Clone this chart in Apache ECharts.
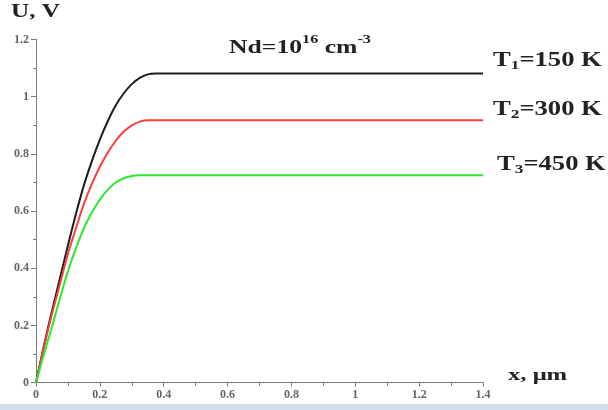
<!DOCTYPE html>
<html><head><meta charset="utf-8">
<script src="https://cdn.jsdelivr.net/npm/echarts@6/dist/echarts.min.js"></script>
<style>html,body{margin:0;padding:0;background:#fff}#c{width:608px;height:410px}</style>
</head><body><div id="c"></div>
<script>
// Data
const xT1 = [0, 0.025, 0.05, 0.075, 0.1, 0.125, 0.15, 0.175, 0.2, 0.225, 0.25, 0.275, 0.3, 0.325, 0.35, 0.375, 1.4];
const yT1 = [0, 0.13, 0.25, 0.365, 0.48, 0.59, 0.69, 0.775, 0.85, 0.915, 0.97, 1.012, 1.044, 1.066, 1.078, 1.081, 1.081];
const xT2 = [0, 0.025, 0.05, 0.075, 0.1, 0.125, 0.15, 0.175, 0.2, 0.225, 0.25, 0.275, 0.3, 0.325, 0.35, 1.4];
const yT2 = [0, 0.125, 0.24, 0.345, 0.45, 0.54, 0.625, 0.695, 0.755, 0.805, 0.846, 0.878, 0.9, 0.913, 0.918, 0.918];
const xT3 = [0, 0.025, 0.05, 0.075, 0.1, 0.125, 0.15, 0.175, 0.2, 0.225, 0.25, 0.275, 0.3, 0.325, 1.4];
const yT3 = [0, 0.1, 0.195, 0.295, 0.39, 0.47, 0.54, 0.595, 0.64, 0.675, 0.7, 0.715, 0.723, 0.725, 0.725];
const seriesNames = ['T1=150 K', 'T2=300 K', 'T3=450 K'];
const seriesSub = ['1', '2', '3'];
const seriesRest = ['=150 K', '=300 K', '=450 K'];
const xAxisTitle = 'x, μm';
const yAxisTitle = 'U, V';
const noteMain = ['Nd=10', ' cm'];
const noteSup = ['16', '-3'];

const zip = (xs, ys) => xs.map((x, i) => [x, ys[i]]);
const colors = ['#1c1c1c', '#ff3c3c', '#2ee82e'];
const serif = '"Liberation Serif", "DejaVu Serif", serif';

const chart = echarts.init(document.getElementById('c'));
const axisLabel = { color: '#666', fontFamily: serif, fontWeight: 'bold', fontSize: 12 };
const labelY = [48.5, 97.5, 152.5];
const labelX = [493, 493, 497];

chart.setOption({
  animation: false,
  backgroundColor: '#fff',
  grid: { left: 36, right: 125, top: 39.5, bottom: 27.3 },
  xAxis: {
    type: 'value', min: 0, max: 1.4, interval: 0.2,
    axisLine: { lineStyle: { color: '#7a7a7a', width: 1 } },
    axisTick: { show: true, length: 4, lineStyle: { color: '#7a7a7a' } },
    minorTick: { show: true, splitNumber: 2, length: 3, lineStyle: { color: '#7a7a7a' } },
    splitLine: { show: false },
    axisLabel: Object.assign({ margin: 6 }, axisLabel)
  },
  yAxis: {
    type: 'value', min: 0, max: 1.2, interval: 0.2,
    axisLine: { show: true, lineStyle: { color: '#7a7a7a', width: 1 } },
    axisTick: { show: true, length: 5, lineStyle: { color: '#7a7a7a' } },
    minorTick: { show: true, splitNumber: 2, length: 3, lineStyle: { color: '#7a7a7a' } },
    splitLine: { show: false },
    axisLabel: Object.assign({ margin: 7 }, axisLabel)
  },
  series: [zip(xT1, yT1), zip(xT2, yT2), zip(xT3, yT3)].map((d, i) => ({
    name: seriesNames[i], type: 'line', data: d, showSymbol: false,
    smooth: 0.3,
    lineStyle: { color: colors[i], width: 2 }
  })),
  graphic: [
    { type: 'text', x: 11, y: 3, scaleX: 1.4,
      style: { text: yAxisTitle, font: 'bold 18px ' + serif, fill: '#222', verticalAlign: 'top' } },
    { type: 'text', x: 508, y: 367, scaleX: 1.45,
      style: { text: xAxisTitle, font: 'bold 17px ' + serif, fill: '#222', verticalAlign: 'top' } },
    { type: 'text', x: 229, y: 34, scaleX: 1.35,
      style: {
        text: '{a|' + noteMain[0] + '}{s|' + noteSup[0] + '}{a|' + noteMain[1] + '}{s|' + noteSup[1] + '}',
        verticalAlign: 'top',
        rich: {
          a: { font: 'bold 19px ' + serif, fill: '#222', lineHeight: 24, verticalAlign: 'bottom' },
          s: { font: 'bold 12px ' + serif, fill: '#222', lineHeight: 24, verticalAlign: 'top' }
        }
      } },
    ...seriesNames.map((n, i) => ({
      type: 'text', x: labelX[i], y: labelY[i], scaleX: 1.33,
      style: {
        text: '{a|T}{s|' + seriesSub[i] + '}{a|' + seriesRest[i] + '}',
        verticalAlign: 'top',
        rich: {
          a: { font: 'bold 20px ' + serif, fill: '#222', lineHeight: 24, verticalAlign: 'middle' },
          s: { font: 'bold 13px ' + serif, fill: '#222', lineHeight: 24, verticalAlign: 'bottom' }
        }
      }
    })),
    { type: 'rect', shape: { x: 0, y: 404, width: 608, height: 6 }, style: { fill: '#d3def0' } }
  ]
});
</script>
</body></html>
